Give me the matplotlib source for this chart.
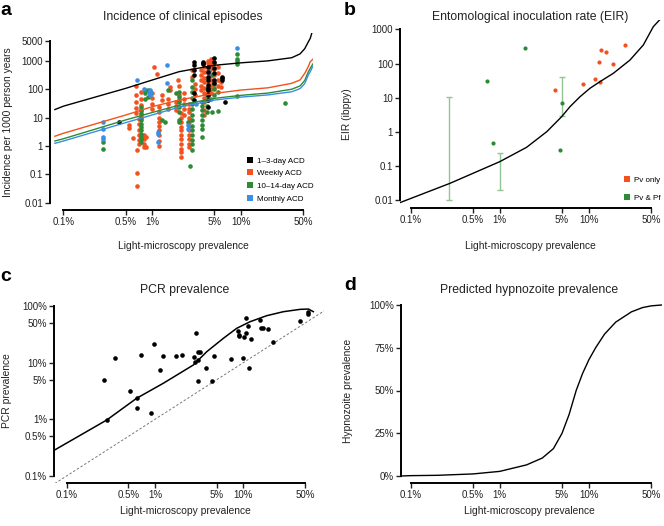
import matplotlib
matplotlib.use("Agg")
import matplotlib.pyplot as plt
from matplotlib.lines import Line2D
from matplotlib.ticker import NullLocator, FixedLocator

plt.rcParams['font.family'] = ['Liberation Sans', 'DejaVu Sans']

W, H = 664, 526
fig = plt.figure(figsize=(W / 100, H / 100), dpi=100)

C_BLACK = '#000000'
C_ORANGE = '#F2521F'
C_GREEN = '#2E8B35'
C_BLUE = '#3A8EE3'
C_ERR = '#93C493'

# ---------------- data ----------------
x_ticks = [0.001, 0.005, 0.01, 0.05, 0.1, 0.5]
x_ticklabels = ['0.1%', '0.5%', '1%', '5%', '10%', '50%']

# Panel a: model curves (prevalence fraction, incidence per 1000 py)
a_curve_prev = [0.0008, 0.001, 0.005, 0.01, 0.02, 0.05, 0.1, 0.2, 0.37, 0.46, 0.52, 0.57, 0.6, 0.64]
a_curve_13day = [19, 25, 105, 207, 405, 680, 830, 970, 1250, 1700, 2600, 4500, 6000, 12000]
a_curve_weekly = [2.2, 2.8, 12.2, 24, 41, 70, 92, 110, 158, 207, 355, 610, 910, 1100]
a_curve_1014 = [1.5, 1.8, 8.2, 15, 27, 47, 60, 72, 98, 128, 200, 400, 530, 750]
a_curve_monthly = [1.24, 1.5, 6.6, 12.3, 23, 41, 52, 62, 80, 103, 155, 310, 405, 620]

# Panel a: observed incidence, columns of (prevalence %, [incidence values])
obs_13day = [(0.42, [6.8]), (2.97, [910, 700, 465, 310, 70, 41]), (3.7, [900, 800, 750]),
             (4.2, [610, 410, 270, 207, 140, 105, 92, 62, 41, 24]),
             (4.9, [1200, 900, 530, 355, 207, 160]), (6.1, [270, 207, 240]), (6.6, [36])]
obs_weekly = [(0.55, [5.3, 4.2]), (0.60, [1.96]), (0.65, [130, 60, 35, 22, 14]),
              (0.68, [0.72, 0.116, 0.04]), (0.70, [9, 6, 3.5, 2.5, 1.6, 1.2]),
              (0.75, [80, 45, 28, 18, 12]), (0.8, [2.5, 1.8, 1.2, 0.9]), (0.85, [2.1, 0.95]),
              (1.0, [70, 50, 30, 20]), (1.05, [580]), (1.12, [330]),
              (1.2, [24, 15, 10, 7, 5, 3.5, 2.5, 1.5, 1.0]), (1.3, [40, 60]), (1.5, [45, 30, 20]),
              (1.6, [120, 90]), (1.85, [35, 25, 18]), (1.93, [207]), (2.0, [130, 60, 40]),
              (2.1, [14, 10, 7, 4.75, 3.5, 2.5, 1.8, 1.2, 0.8, 0.6, 0.42]),
              (2.3, [70, 45, 30, 20, 12]),
              (2.6, [30, 20, 15, 10, 7, 5, 3.5, 2.5, 1.8, 1.2, 0.9]), (2.77, [465, 270]),
              (3.0, [150, 100, 60]), (3.5, [450, 300, 200, 130, 90]),
              (3.8, [600, 400, 250, 170, 110, 75, 50, 35, 18, 12]),
              (4.2, [1000, 800, 600, 450, 350, 250, 180, 120, 80, 55]),
              (4.6, [1100, 900, 700, 500, 300, 200, 140, 100, 70]),
              (5.0, [800, 500, 300, 160, 110]), (5.5, [600, 350, 200, 130]), (6.0, [180, 120])]
obs_1014 = [(0.276, [1.4, 0.77]), (0.745, [24, 18, 14, 10, 8, 6, 4.5, 3.5, 2.6, 2.0, 1.7, 1.4]),
            (0.83, [92, 70, 45]), (0.9, [95, 51]), (1.3, [8]), (1.4, [7]), (1.5, [92]),
            (1.85, [70]), (2.0, [80, 54, 36, 24, 16, 8.2, 7.1]), (2.5, [7]), (2.65, [0.2]),
            (2.77, [200, 120, 80, 50, 30, 20, 12, 8, 5, 3.5, 2.5, 1.6, 1.2, 0.7]),
            (3.6, [36, 25, 18, 12, 8, 5.5, 4, 2.0]), (4.1, [100, 60, 40, 25, 15]),
            (4.7, [16, 300]), (5.0, [150, 100, 60]), (5.5, [80, 17]),
            (8.9, [1650, 1100, 1000, 750, 58]), (31, [31])]
obs_monthly = [(0.276, [7.1, 3.9, 2.1, 1.7]), (0.68, [207]), (0.8, [100]),
               (0.95, [90, 85, 80, 75, 70, 65, 60]), (1.17, [3.2, 2.6, 1.4]),
               (1.45, [700, 166]), (2.5, [5.5, 4.0]), (3.1, [30]), (4.3, [410]), (4.6, [45]),
               (8.9, [2700])]

# Panel b: EIR model curve and observations
b_curve_prev = [0.00076, 0.00277, 0.01, 0.02, 0.0337, 0.0495, 0.0614, 0.0794, 0.103, 0.133,
                0.188, 0.289, 0.408, 0.528, 0.617]
b_curve_eir = [0.0086, 0.0316, 0.1355, 0.356, 1.02, 2.8, 5.5, 10.7, 19.0, 29.6, 52, 127, 350,
               1200, 1860]
pv_only_prev = [0.0417, 0.0851, 0.118, 0.133, 0.130, 0.137, 0.157, 0.185, 0.254]
pv_only_eir = [16.9, 24.8, 34.7, 29.0, 111, 257, 214, 100, 343]
pv_pf_prev = [0.0191, 0.00726, 0.00847, 0.0500, 0.0471]
pv_pf_eir = [292, 31.6, 0.468, 7.2, 0.304]
err_prev = [0.00272, 0.0100, 0.0500]
err_lo = [0.01, 0.0197, 3.0]
err_hi = [10.3, 0.238, 40]

# Panel c: PCR prevalence
c_curve_prev = [0.00074, 0.00284, 0.0062, 0.0124, 0.0272, 0.0385, 0.0594, 0.0841, 0.119,
                0.184, 0.284, 0.439, 0.545, 0.62]
c_curve_pcr = [0.0029, 0.0097, 0.0235, 0.0432, 0.091, 0.156, 0.269, 0.404, 0.528, 0.675,
               0.794, 0.873, 0.885, 0.794]
c_obs_prev = [0.00265, 0.00284, 0.00352, 0.00521, 0.00621, 0.00621, 0.00695, 0.00902, 0.00982,
              0.0114, 0.0122, 0.0173, 0.0200, 0.0288, 0.0279, 0.0284, 0.0304, 0.0324, 0.0309,
              0.0304, 0.0375, 0.0442, 0.0466, 0.0719, 0.0863, 0.0885, 0.0885, 0.0982, 0.1016,
              0.1081, 0.1072, 0.1140, 0.1159, 0.1233, 0.1545, 0.1574, 0.1687, 0.1919, 0.2168,
              0.4385, 0.5445, 0.5445]
c_obs_pcr = [0.050, 0.0096, 0.122, 0.032, 0.0235, 0.0158, 0.136, 0.0128, 0.210, 0.0733, 0.131,
             0.129, 0.138, 0.338, 0.127, 0.104, 0.154, 0.154, 0.110, 0.048, 0.0794, 0.0469,
             0.133, 0.116, 0.362, 0.308, 0.295, 0.119, 0.280, 0.622, 0.338, 0.444, 0.0805,
             0.265, 0.558, 0.414, 0.414, 0.387, 0.232, 0.550, 0.773, 0.713]
c_identity = [0.0005, 1.0]

# Panel d: hypnozoite prevalence
d_curve_prev = [0.00078, 0.001, 0.002, 0.005, 0.01, 0.02, 0.03, 0.04, 0.05, 0.06, 0.072, 0.085,
                0.1, 0.119, 0.15, 0.2, 0.3, 0.4, 0.5, 0.65]
d_curve_hyp = [0.0, 0.002, 0.004, 0.012, 0.027, 0.065, 0.105, 0.16, 0.25, 0.36, 0.5, 0.6,
               0.68, 0.75, 0.83, 0.9, 0.96, 0.985, 0.995, 1.0]


def expand(cols):
    xs = [p / 100 for p, vs in cols for v in vs]
    ys = [v for p, vs in cols for v in vs]
    return xs, ys


# ---------------- helpers ----------------
def add_axes_px(l, t, r, b):
    return fig.add_axes([l / W, 1 - b / H, (r - l) / W, (b - t) / H])


def style(ax, xlim, ylim, yticks, ylabels, ylog=True):
    ax.set_xscale('log')
    if ylog:
        ax.set_yscale('log')
    ax.set_xlim(*xlim)
    ax.set_ylim(*ylim)
    ax.xaxis.set_major_locator(FixedLocator(x_ticks))
    ax.set_xticklabels(x_ticklabels)
    ax.yaxis.set_major_locator(FixedLocator(yticks))
    ax.set_yticklabels(ylabels)
    ax.xaxis.set_minor_locator(NullLocator())
    ax.yaxis.set_minor_locator(NullLocator())
    for s in ['top', 'right']:
        ax.spines[s].set_visible(False)
    for s in ['left', 'bottom']:
        ax.spines[s].set_linewidth(1.4)
    ax.spines['bottom'].set_bounds(x_ticks[0], x_ticks[-1])
    ax.spines['left'].set_bounds(min(yticks), max(yticks))
    ax.tick_params(direction='out', length=3.5, width=1.0, labelsize=7, pad=1.5,
                   colors='#222222')
    ax.patch.set_visible(False)


def ftext(px, py, s, **kw):
    fig.text(px / W, 1 - py / H, s, **kw)


# ---------------- panel a ----------------
axa = add_axes_px(50, 33, 313, 210)
style(axa, (7.05e-4, 0.644), (0.00568, 9226),
      [0.01, 0.1, 1, 10, 100, 1000, 5000], ['0.01', '0.1', '1', '10', '100', '1000', '5000'])
for cols, col in [(obs_weekly, C_ORANGE), (obs_1014, C_GREEN), (obs_monthly, C_BLUE),
                  (obs_13day, C_BLACK)]:
    xs, ys = expand(cols)
    axa.plot(xs, ys, 'o', color=col, ms=3.3, mew=0, zorder=2)
for ys, col in [(a_curve_13day, C_BLACK), (a_curve_weekly, C_ORANGE),
                (a_curve_1014, C_GREEN), (a_curve_monthly, C_BLUE)]:
    axa.plot(a_curve_prev, ys, '-', color=col, lw=1.0, zorder=3)
handles = [Line2D([], [], ls='none', marker='s', ms=4, mew=0, color=c)
           for c in [C_BLACK, C_ORANGE, C_GREEN, C_BLUE]]
axa.legend(handles, ['1–3-day ACD', 'Weekly ACD', '10–14-day ACD', 'Monthly ACD'],
           loc='upper left', bbox_to_anchor=(247 / W, 1 - 157 / H), bbox_transform=fig.transFigure,
           frameon=False, fontsize=5.8, handlelength=0.8, handletextpad=0.5, labelspacing=0.62,
           borderpad=0, borderaxespad=0)

# ---------------- panel b ----------------
axb = add_axes_px(400, 20, 662, 208)
style(axb, (7.62e-4, 0.661), (0.006, 1883),
      [0.01, 0.1, 1, 10, 100, 1000], ['0.01', '0.1', '1', '10', '100', '1000'])
axb.errorbar(err_prev, [(lo * hi) ** 0.5 for lo, hi in zip(err_lo, err_hi)],
             yerr=[[((lo * hi) ** 0.5) - lo for lo, hi in zip(err_lo, err_hi)],
                   [hi - ((lo * hi) ** 0.5) for lo, hi in zip(err_lo, err_hi)]],
             fmt='none', ecolor=C_ERR, elinewidth=1.0, capsize=2, capthick=1.0, zorder=1)
axb.plot(pv_only_prev, pv_only_eir, 'o', color=C_ORANGE, ms=3.0, mew=0, zorder=2)
axb.plot(pv_pf_prev, pv_pf_eir, 'o', color=C_GREEN, ms=3.0, mew=0, zorder=2)
axb.plot(b_curve_prev, b_curve_eir, '-', color='black', lw=1.0, zorder=3)
hb = [Line2D([], [], ls='none', marker='s', ms=4, mew=0, color=c) for c in [C_ORANGE, C_GREEN]]
axb.legend(hb, ['Pv only', 'Pv & Pf'], loc='upper left',
           bbox_to_anchor=(624 / W, 1 - 176.5 / H), bbox_transform=fig.transFigure,
           frameon=False, fontsize=5.8, handlelength=0.8, handletextpad=0.5, labelspacing=1.25,
           borderpad=0, borderaxespad=0)

# ---------------- panel c ----------------
axc = add_axes_px(54, 299, 324, 483)
style(axc, (7.19e-4, 0.818), (7.5e-4, 1.33),
      [0.001, 0.005, 0.01, 0.05, 0.1, 0.5, 1.0],
      ['0.1%', '0.5%', '1%', '5%', '10%', '50%', '100%'])
axc.plot(c_identity, c_identity, '--', color='#777777', lw=0.7, dashes=(2.5, 2), zorder=1)
axc.plot(c_obs_prev, c_obs_pcr, 'o', color='black', ms=3.3, mew=0, zorder=2)
axc.plot(c_curve_prev, c_curve_pcr, '-', color='black', lw=1.1, zorder=3)

# ---------------- panel d ----------------
axd = add_axes_px(401, 298, 662, 483)
style(axd, (7.8e-4, 0.661), (-0.041, 1.041),
      [0, 0.25, 0.5, 0.75, 1.0], ['0%', '25%', '50%', '75%', '100%'], ylog=False)
axd.plot(d_curve_prev, d_curve_hyp, '-', color='black', lw=1.0)

# ---------------- texts ----------------
tkw = dict(ha='center', va='center', fontsize=8.8, color='#222222')
ftext(183, 17, 'Incidence of clinical episodes', **tkw)
ftext(530, 17, 'Entomological inoculation rate (EIR)', **tkw)
ftext(185, 290, 'PCR prevalence', **tkw)
ftext(529, 290, 'Predicted hypnozoite prevalence', **tkw)

lkw = dict(ha='center', va='center', fontsize=7.4, color='#222222')
ftext(183, 246, 'Light-microscopy prevalence', **lkw)
ftext(530, 246, 'Light-microscopy prevalence', **lkw)
ftext(185, 511, 'Light-microscopy prevalence', **lkw)
ftext(529, 511, 'Light-microscopy prevalence', **lkw)
ftext(8, 122, 'Incidence per 1000 person years', rotation=90, **lkw)
ftext(347, 114, 'EIR (ibppy)', rotation=90, **lkw)
ftext(7, 391, 'PCR prevalence', rotation=90, **lkw)
ftext(348, 391, 'Hypnozoite prevalence', rotation=90, **lkw)

pkw = dict(ha='left', va='baseline', fontsize=14, fontweight='bold', color='black')
ftext(0, 15, 'a', **pkw)
ftext(344, 15, 'b', **pkw)
ftext(0, 281, 'c', **pkw)
ftext(344, 290, 'd', **pkw)

fig.savefig('out.png', dpi=100)
